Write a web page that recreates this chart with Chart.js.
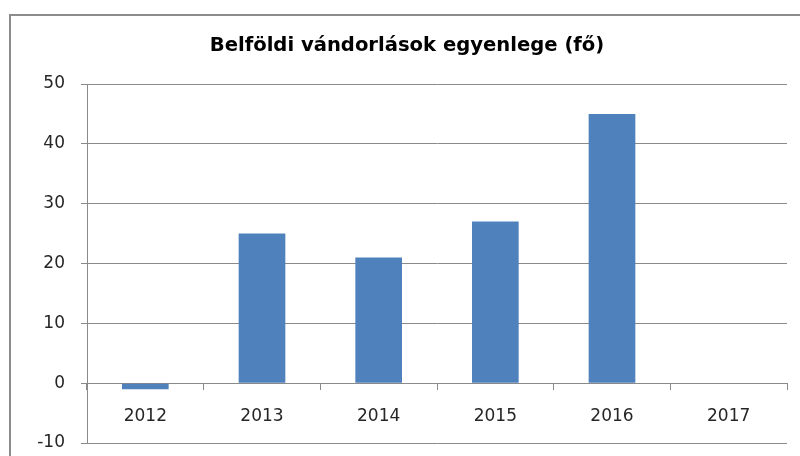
<!DOCTYPE html>
<html>
<head>
<meta charset="utf-8">
<script src="https://cdn.jsdelivr.net/npm/chart.js@4/dist/chart.umd.min.js"></script>
<style>
  html, body { margin: 0; padding: 0; background: #ffffff; overflow: hidden; }
  #wrap { position: relative; width: 800px; height: 456px; overflow: hidden; }
  .fl { position: absolute; background: #8c8c8c; }
  #ftop { left: 9px; top: 14px; width: 791px; height: 2px; }
  #fleft { left: 9px; top: 14px; width: 2px; height: 442px; }
  #c { position: absolute; left: 0; top: 0; }
</style>
</head>
<body>
<div id="wrap">
  <div class="fl" id="ftop"></div>
  <div class="fl" id="fleft"></div>
  <canvas id="c" width="800" height="456"></canvas>
</div>
<script>
const titleText = 'Belföldi vándorlások egyenlege (fő)';
const categories = ['2012', '2013', '2014', '2015', '2016', '2017'];
const values = [-1, 25, 21, 27, 45, 0];
const yMin = -10;
const yMax = 50;
const yStep = 10;

const axisColor = '#8a8a8a';
const textColor = '#262626';

new Chart(document.getElementById('c'), {
  type: 'bar',
  data: {
    labels: categories,
    datasets: [{
      data: values,
      backgroundColor: '#4f81bd',
      borderWidth: 0,
      categoryPercentage: 1.0,
      barPercentage: 0.4
    }]
  },
  options: {
    responsive: false,
    animation: false,
    devicePixelRatio: 1,
    layout: { padding: { left: 27, right: 13, top: 0, bottom: 13 } },
    plugins: {
      legend: { display: false },
      tooltip: { enabled: false },
      title: {
        display: true,
        text: titleText,
        color: '#000000',
        font: { family: '"DejaVu Sans", sans-serif', size: 19.6, weight: 'bold', lineHeight: 1 },
        padding: { top: 36, bottom: 28.4 }
      }
    },
    scales: {
      x: {
        type: 'category',
        position: { y: 0 },
        offset: true,
        grid: { offset: true, drawOnChartArea: false, drawTicks: true, tickLength: 6, color: axisColor, lineWidth: 1 },
        border: { display: true, color: axisColor, width: 1 },
        ticks: { color: textColor, padding: 17, font: { family: '"DejaVu Sans", sans-serif', size: 17 }, maxRotation: 0 }
      },
      y: {
        min: yMin,
        max: yMax,
        afterFit: (s) => { s.width = 60; s.paddingTop = 0; s.paddingBottom = 0; },
        ticks: { stepSize: yStep, color: textColor, padding: 16, font: { family: '"DejaVu Sans", sans-serif', size: 17 } },
        grid: { color: axisColor, lineWidth: 1, tickLength: 6, drawTicks: true },
        border: { display: true, color: axisColor, width: 1 }
      }
    }
  }
});
</script>
</body>
</html>
